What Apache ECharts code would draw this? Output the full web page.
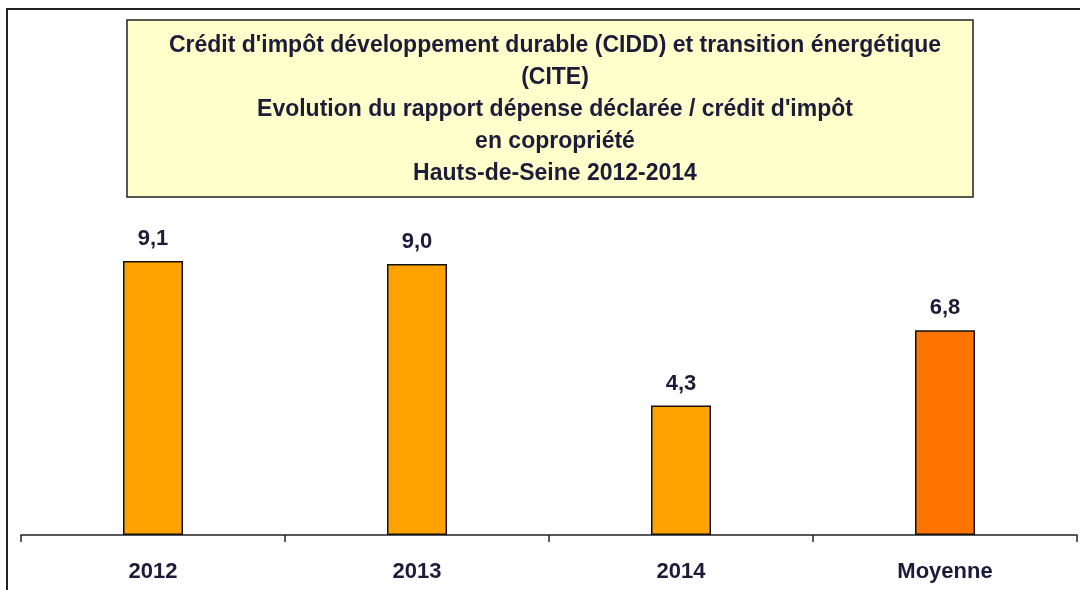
<!DOCTYPE html>
<html>
<head>
<meta charset="utf-8">
<script src="https://cdn.jsdelivr.net/npm/echarts@6/dist/echarts.min.js"></script>
<style>
  html, body { margin: 0; padding: 0; background: #fff; }
  #main { width: 1080px; height: 590px; }
</style>
</head>
<body>
<div id="main"></div>
<script>
// données
const categories = ['2012', '2013', '2014', 'Moyenne'];
const ratios = [9.1, 9.0, 4.3, 6.8];
const barColors = ['#FFA200', '#FFA200', '#FFA200', '#FF7300'];
const titleLines = [
  "Crédit d'impôt développement durable (CIDD) et transition énergétique",
  '(CITE)',
  "Evolution du rapport dépense déclarée / crédit d'impôt",
  'en copropriété',
  'Hauts-de-Seine 2012-2014'
];

const fontFamily = 'Liberation Sans, Arial, sans-serif';
const textColor = '#1c1c3a';

let chart = echarts.init(document.getElementById('main'), null, { renderer: 'canvas' });

let option = {
  backgroundColor: '#ffffff',
  animation: false,
  title: {
    text: titleLines.join('\n'),
    left: 550,
    textAlign: 'center',
    top: 25,
    textStyle: {
      fontFamily: fontFamily,
      fontSize: 23,
      fontWeight: 'bold',
      color: textColor,
      lineHeight: 32
    }
  },
  graphic: [
    // cadre extérieur
    {
      type: 'polyline',
      z: 0,
      shape: { points: [[7, 590], [7, 9], [1080, 9]] },
      style: { stroke: '#222', lineWidth: 2, fill: null }
    },
    // encadré du titre
    {
      type: 'rect',
      z: 0,
      shape: { x: 127, y: 20, width: 846, height: 177 },
      style: { fill: '#FFFFCC', stroke: '#222', lineWidth: 1.5 }
    }
  ],
  grid: {
    left: 21,
    right: 3,
    top: 234,
    bottom: 55
  },
  xAxis: {
    type: 'category',
    data: categories,
    axisLine: { lineStyle: { color: '#222', width: 1.5 } },
    axisTick: { show: true, length: 7, inside: false, lineStyle: { color: '#222', width: 1.5 } },
    axisLabel: {
      margin: 26,
      fontFamily: fontFamily,
      fontSize: 22,
      fontWeight: 'bold',
      color: textColor
    }
  },
  yAxis: {
    type: 'value',
    min: 0,
    max: 10,
    show: false,
    splitLine: { show: false }
  },
  series: [{
    type: 'bar',
    barWidth: 60,
    data: ratios.map((v, i) => ({
      value: v,
      itemStyle: { color: barColors[i] }
    })),
    itemStyle: { borderColor: '#111', borderWidth: 1.5 },
    label: {
      show: true,
      position: 'top',
      distance: 11,
      fontFamily: fontFamily,
      fontSize: 22,
      fontWeight: 'bold',
      color: textColor,
      formatter: p => p.value.toFixed(1).replace('.', ',')
    }
  }]
};

chart.setOption(option);
</script>
</body>
</html>
